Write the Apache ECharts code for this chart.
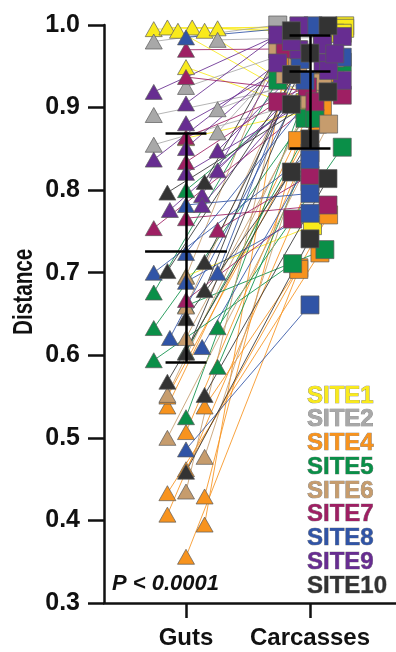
<!DOCTYPE html>
<html>
<head>
<meta charset="utf-8">
<script src="https://cdn.jsdelivr.net/npm/echarts@6/dist/echarts.min.js"></script>
<style>
  html, body { margin: 0; padding: 0; background: #fff; }
  #chart { width: 396px; height: 652px; }
</style>
</head>
<body>
<div id="chart"></div>
<script>
// Group positions on the x axis
const X_GUTS = 1;
const X_CARC = 2;
const xLabels = { 1: "Guts", 2: "Carcasses" };

// Each point: [jitter around the group, distance]. guts[i] is paired with carc[i]
const site1Guts = [[-0.26, 0.995], [-0.15, 0.997], [-0.065, 0.993], [0.05, 0.997], [0.15, 0.993], [0.255, 0.996], [0, 0.949], [0, 0.863], [0, 0.696]];
const site1Carc = [[0.28, 0.999], [0.28, 0.996], [-0.04, 0.906], [0.2, 0.99], [0.04, 0.906], [0.26, 0.99], [-0.04, 0.897], [0.04, 0.897], [0.02, 0.757]];

const site2Guts = [[-0.26, 0.98], [0.255, 0.982], [0, 0.925], [0.255, 0.898], [-0.26, 0.891], [0.255, 0.87], [-0.26, 0.855]];
const site2Carc = [[-0.26, 1.0], [0.1, 0.985], [-0.1, 0.97], [0.2, 0.95], [0, 0.93], [-0.2, 0.96], [0.25, 0.92]];

const site4Guts = [[-0.15, 0.538], [0.15, 0.538], [0, 0.507], [-0.15, 0.433], [0.15, 0.429], [-0.15, 0.407], [0.15, 0.395], [0, 0.356], [0, 0.462], [-0.15, 0.55]];
const site4Carc = [[0.12, 0.933], [-0.09, 0.706], [0.06, 0.88], [0.08, 0.724], [-0.1, 0.86], [0, 0.81], [-0.2, 0.95], [-0.09, 0.704], [0.15, 0.77], [0.1, 0.9]];

const site5Guts = [[0, 0.80], [-0.26, 0.676], [0, 0.66], [-0.26, 0.633], [0.255, 0.634], [0, 0.604], [-0.26, 0.594], [0.255, 0.586], [0, 0.525]];
const site5Carc = [[0.26, 0.955], [-0.26, 0.933], [0.12, 0.728], [-0.04, 0.887], [0.26, 0.852], [0.04, 0.887], [-0.14, 0.711], [0.2, 0.92], [0, 0.93]];

const site6Guts = [[0, 0.695], [0, 0.659], [0, 0.621], [-0.15, 0.552], [-0.15, 0.50], [0.15, 0.477], [0, 0.435]];
const site6Carc = [[-0.26, 0.971], [-0.1, 0.95], [0.1, 0.93], [0, 0.91], [0.15, 0.88], [0.2, 0.96], [-0.2, 0.94]];

const site7Guts = [[0, 0.97], [0, 0.937], [0, 0.864], [0, 0.834], [0, 0.766], [-0.26, 0.754], [0.255, 0.752], [0, 0.667]];
const site7Carc = [[-0.2, 0.971], [0.26, 0.915], [-0.02, 0.925], [-0.26, 0.907], [0.145, 0.782], [0.04, 0.907], [0, 0.818], [-0.14, 0.765]];

const site8Guts = [[0, 0.985], [0, 0.782], [0, 0.724], [-0.26, 0.70], [0.255, 0.70], [0, 0.689], [-0.13, 0.621], [0.13, 0.61], [0, 0.486]];
const site8Carc = [[0.025, 0.999], [0, 0.796], [0.26, 0.961], [0, 0.845], [-0.08, 0.958], [0, 0.772], [-0.04, 0.933], [0, 0.837], [0, 0.661]];

const site9Guts = [[-0.26, 0.919], [0, 0.905], [0, 0.881], [0, 0.851], [0.255, 0.848], [-0.26, 0.837], [0.255, 0.824], [0, 0.821], [0.13, 0.794], [-0.13, 0.776], [0.13, 0.782]];
const site9Carc = [[-0.09, 0.999], [-0.26, 0.988], [0.26, 0.986], [-0.09, 0.97], [0.1, 0.976], [-0.26, 0.954], [0.105, 0.954], [0.26, 0.933], [-0.15, 0.98], [0.15, 0.945], [0.2, 0.965]];

const site10Guts = [[0.15, 0.81], [-0.15, 0.797], [0.15, 0.713], [-0.15, 0.702], [0.15, 0.679], [0, 0.645], [0, 0.603], [-0.15, 0.568], [0.15, 0.552], [0, 0.459]];
const site10Carc = [[-0.15, 0.993], [0.145, 0.919], [0, 0.966], [0.145, 0.999], [-0.15, 0.94], [-0.15, 0.822], [-0.15, 0.904], [0, 0.862], [0.145, 0.814], [0, 0.741]];

// [lower quartile, median, upper quartile]
const gutsStats = [0.591, 0.726, 0.869];
const carcStats = [0.851, 0.944, 0.987];

const sites = [
  { name: "SITE1", color: "#f9ea1c", guts: site1Guts, carc: site1Carc },
  { name: "SITE2", color: "#a8a8a8", guts: site2Guts, carc: site2Carc },
  { name: "SITE4", color: "#f7931e", guts: site4Guts, carc: site4Carc },
  { name: "SITE5", color: "#0a8f48", guts: site5Guts, carc: site5Carc },
  { name: "SITE6", color: "#c69c6d", guts: site6Guts, carc: site6Carc },
  { name: "SITE7", color: "#9e1f63", guts: site7Guts, carc: site7Carc },
  { name: "SITE8", color: "#3054a6", guts: site8Guts, carc: site8Carc },
  { name: "SITE9", color: "#672d91", guts: site9Guts, carc: site9Carc },
  { name: "SITE10", color: "#333333", guts: site10Guts, carc: site10Carc },
];

const FONT = "'Liberation Sans', Arial, sans-serif";
const CAP = 0.165;

// Build error bar segments for one group
function errorBar(x, stats, medianHalf) {
  const [lo, med, hi] = stats;
  return [
    { coords: [[x, lo], [x, hi]] },
    { coords: [[x - CAP, lo], [x + CAP, lo]] },
    { coords: [[x - CAP, hi], [x + CAP, hi]] },
    { coords: [[x - medianHalf, med], [x + medianHalf, med]] },
  ];
}

const chart = echarts.init(document.getElementById("chart"));

const lineSeries = sites.map((s) => ({
  name: s.name,
  type: "lines",
  coordinateSystem: "cartesian2d",
  z: 1,
  silent: true,
  lineStyle: { color: s.color, width: 1, opacity: 0.85 },
  data: s.guts.map((g, i) => ({
    coords: [[X_GUTS + g[0], g[1]], [X_CARC + s.carc[i][0], s.carc[i][1]]],
  })),
}));

const pointSeries = sites.map((s) => ({
  name: s.name,
  type: "scatter",
  z: 2,
  itemStyle: { color: s.color, opacity: 1, borderColor: "#5a5a5a", borderWidth: 0.7 },
  data: [
    ...s.guts.map((g) => ({ value: [X_GUTS + g[0], g[1]], symbol: "triangle", symbolSize: [17, 15] })),
    ...s.carc.map((c) => ({ value: [X_CARC + c[0], c[1]], symbol: "rect", symbolSize: 18 })),
  ],
}));

// Site key, stacked in the lower right corner
const legendTexts = sites.map((s, i) => ({
  type: "text",
  x: 307,
  y: 396 + i * 23.75,
  z: 10,
  style: {
    text: s.name,
    font: `bold 24px ${FONT}`,
    fill: s.color,
    stroke: "#7a7a7a",
    lineWidth: 0.7,
    verticalAlign: "middle",
  },
}));

const option = {
  animation: false,
  backgroundColor: "#fff",
  grid: { left: 104, right: 0, top: 25, bottom: 49 },
  xAxis: {
    type: "value",
    min: 0.3387,
    max: 2.6935,
    axisLine: { show: true, lineStyle: { color: "#111", width: 2.5 } },
    axisTick: { show: true, customValues: [X_GUTS, X_CARC], length: 15, lineStyle: { color: "#111", width: 2.5 } },
    axisLabel: {
      customValues: [X_GUTS, X_CARC],
      formatter: (v) => xLabels[Math.round(v)] || "",
      color: "#111",
      fontSize: 24,
      fontWeight: "bold",
      fontFamily: FONT,
      margin: 23,
    },
    splitLine: { show: false },
  },
  yAxis: {
    type: "value",
    min: 0.3,
    max: 1.0,
    interval: 0.1,
    axisLine: { show: true, lineStyle: { color: "#111", width: 2.5 } },
    axisTick: { show: true, length: 16, lineStyle: { color: "#111", width: 2.5 } },
    axisLabel: {
      formatter: (v) => v.toFixed(1),
      color: "#111",
      fontSize: 25,
      fontWeight: "bold",
      fontFamily: FONT,
      margin: 24,
    },
    splitLine: { show: false },
  },
  graphic: [
    {
      type: "text",
      x: 10,
      y: 335,
      rotation: Math.PI / 2,
      scaleX: 0.74,
      style: { text: "Distance", font: `bold 28px ${FONT}`, fill: "#111", verticalAlign: "top" },
    },
    {
      type: "text",
      left: 112,
      top: 573,
      style: { text: "P < 0.0001", font: `italic bold 22px ${FONT}`, fill: "#111" },
    },
    ...legendTexts,
  ],
  series: [
    ...lineSeries,
    ...pointSeries,
    {
      name: "errorBars",
      type: "lines",
      coordinateSystem: "cartesian2d",
      z: 3,
      silent: true,
      lineStyle: { color: "#000", width: 2.5, opacity: 1 },
      data: [...errorBar(X_GUTS, gutsStats, 0.33), ...errorBar(X_CARC, carcStats, CAP)],
    },
  ],
};

chart.setOption(option);
</script>
</body>
</html>
